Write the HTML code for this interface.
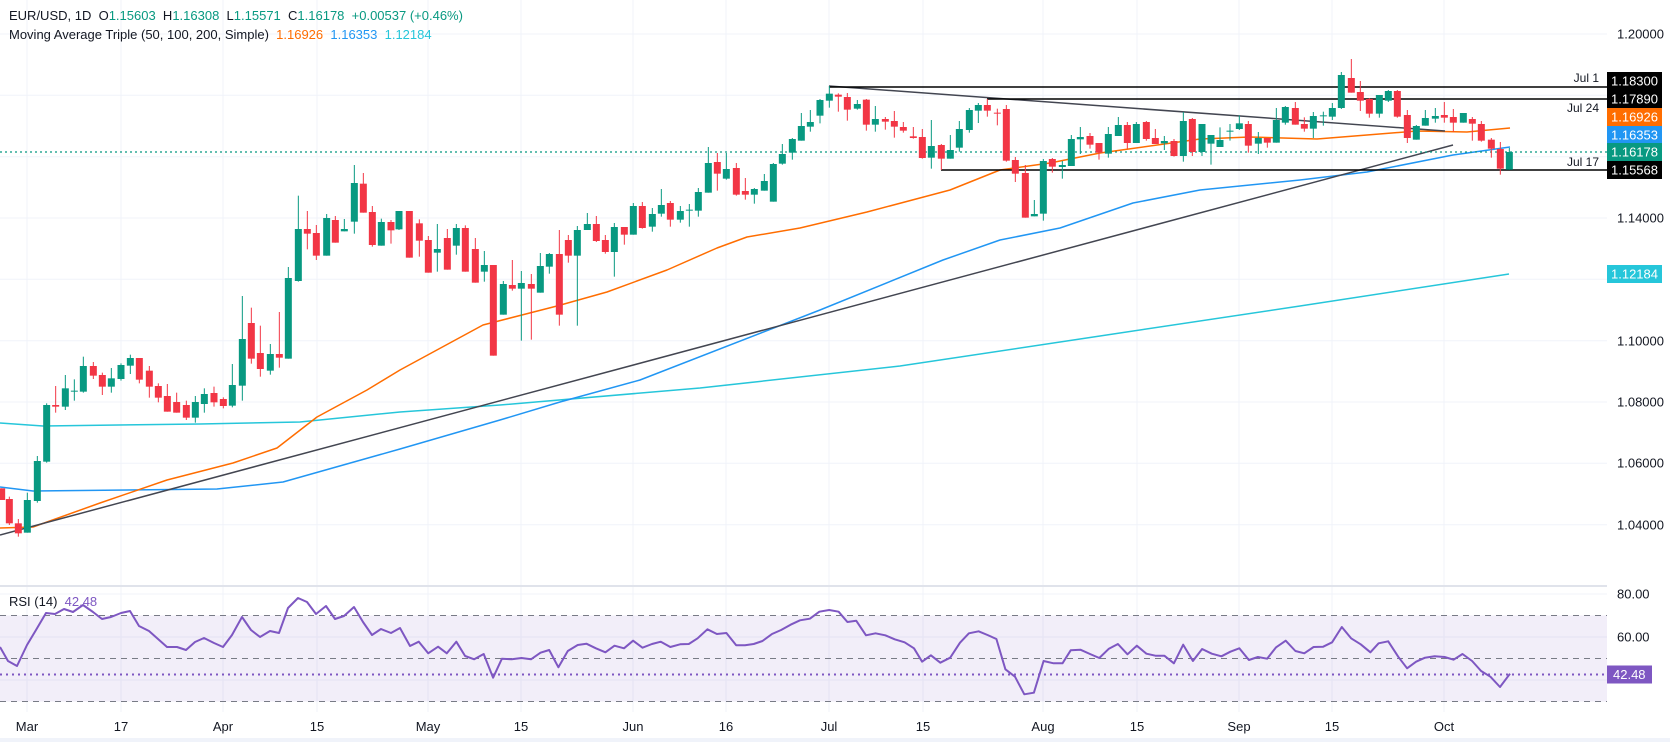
<!DOCTYPE html>
<html><head><meta charset="utf-8">
<style>
html,body{margin:0;padding:0;background:#fff;}
#w{position:relative;width:1670px;height:742px;overflow:hidden;font-family:"Liberation Sans",sans-serif;}
svg{position:absolute;left:0;top:0;}
.t{position:absolute;font-size:13px;color:#131722;white-space:nowrap;}
</style></head><body>
<div id="w">
<svg id="s" width="1670" height="742" xmlns="http://www.w3.org/2000/svg"></svg>
<div class="t" style="left:9px;top:8px;">EUR/USD, 1D&nbsp; O<span style="color:#089981">1.15603</span>&nbsp; H<span style="color:#089981">1.16308</span>&nbsp; L<span style="color:#089981">1.15571</span>&nbsp; C<span style="color:#089981">1.16178</span>&nbsp; <span style="color:#089981">+0.00537 (+0.46%)</span></div>
<div class="t" style="left:9px;top:27px;">Moving Average Triple (50, 100, 200, Simple)&nbsp; <span style="color:#ff6d00">1.16926</span>&nbsp; <span style="color:#2196f3">1.16353</span>&nbsp; <span style="color:#26c6da">1.12184</span></div>
<div class="t" style="left:9px;top:594px;">RSI (14)&nbsp; <span style="color:#7e57c2">42.48</span></div>
</div>
<script>
var s=document.getElementById('s');var NS='http://www.w3.org/2000/svg';
function el(n,a,txt){var e=document.createElementNS(NS,n);for(var k in a)e.setAttribute(k,a[k]);if(txt!==undefined)e.textContent=txt;s.appendChild(e);return e;}
// grids
var vx=[27,121,223,317,428,521,633,726,829,923,1043,1137,1239,1332,1444];
vx.forEach(function(x){el('line',{x1:x,y1:0,x2:x,y2:712,stroke:'#f0f3fa','stroke-width':1});});
[34,95.3,156.7,218,279.3,340.7,402,463.3,524.7].forEach(function(y){el('line',{x1:0,y1:y,x2:1607,y2:y,stroke:'#f0f3fa','stroke-width':1});});
[594,637,680].forEach(function(y){el('line',{x1:0,y1:y,x2:1607,y2:y,stroke:'#f0f3fa','stroke-width':1});});
// separator
el('rect',{x:0,y:585,width:1670,height:2,fill:'#e0e3eb'});
el('rect',{x:0,y:738,width:1670,height:4,fill:'#f0f3fa'});
// RSI band
el('rect',{x:0,y:615.5,width:1607,height:86,fill:'rgba(126,87,194,0.1)'});
[615.5,658.5,701.5].forEach(function(y){el('line',{x1:0,y1:y,x2:1607,y2:y,stroke:'#787b86','stroke-width':1,'stroke-dasharray':'6 5'});});
el('line',{x1:0,y1:674.5,x2:1607,y2:674.5,stroke:'#7e57c2','stroke-width':2,'stroke-dasharray':'2 4'});
// MA lines
function pl(pts,c,w){el('polyline',{points:pts.map(function(p){return p.join(',')}).join(' '),fill:'none',stroke:c,'stroke-width':w||1.5,'stroke-linejoin':'round'});}
pl([[0,423],[43,426],[200,424],[300,422],[400,412],[500,405],[700,388],[900,366],[1100,336],[1300,306],[1509,274]],'#26c6da');
pl([[0,487],[33,491],[217,489],[283,482],[400,449],[500,420],[560,402],[640,380],[820,310],[943,260],[1000,240],[1060,228],[1133,203],[1200,190],[1300,180],[1367,172],[1453,155],[1510,147]],'#2196f3');
pl([[0,528],[33,527],[100,503],[167,480],[233,463],[277,448],[317,417],[367,390],[400,370],[483,325],[557,306],[607,292],[667,270],[717,248],[747,237],[800,228],[867,212],[950,190],[1000,170],[1050,163],[1100,153],[1200,139],[1250,137],[1317,139],[1367,135],[1417,131],[1467,132],[1510,128]],'#ff6d00');
// trend lines
el('line',{x1:0,y1:535,x2:1453,y2:145,stroke:'#434651','stroke-width':1.5});
el('line',{x1:829,y1:86,x2:1445,y2:131,stroke:'#434651','stroke-width':1.5});
el('line',{x1:829,y1:87,x2:1607,y2:87,stroke:'#000','stroke-width':1.5});
el('line',{x1:987,y1:99,x2:1607,y2:99,stroke:'#000','stroke-width':1.5});
el('line',{x1:941,y1:170,x2:1607,y2:170,stroke:'#000','stroke-width':1.5});
el('line',{x1:0,y1:152,x2:1607,y2:152,stroke:'#089981','stroke-width':1.2,'stroke-dasharray':'2 3'});
[['Jul 1',82],['Jul 24',112],['Jul 17',166]].forEach(function(a){el('text',{x:1599,y:a[1],'text-anchor':'end','font-size':12,fill:'#131722','font-family':'Liberation Sans, sans-serif'},a[0]);});
// candles
function C(ox,oy,arr){arr.forEach(function(c){var x=ox+c[0]/3,bt=oy+c[1]/3,bb=oy+c[2]/3,wt=oy+c[3]/3,wb=oy+c[4]/3;var col=c[5]?'#089981':'#f23645';
el('line',{x1:x,y1:wt,x2:x,y2:wb,stroke:col,'stroke-width':1});el('rect',{x:x-3.5,y:bt,width:7,height:Math.max(1,bb-bt),fill:col});});}
C(0,150,[[5,1015,1050,1015,1050,0],[28,1047,1120,1040,1125,0],[55,1120,1150,1107,1160,0],[82,1050,1148,1028,1148,1],[112,933,1053,918,1058,1],[140,765,935,760,938,1],[167,765,770,708,788,0],[196,715,770,675,780,1],[223,722,725,688,752,1],[250,648,725,620,728,1],[280,648,677,636,687,0],[307,675,710,668,735,0],[334,685,710,654,728,1],[363,645,687,640,692,1],[391,624,647,614,672,1],[418,624,689,624,700,0],[448,662,710,648,743,0],[475,708,743,700,757,0],[502,738,785,702,785,0],[530,756,788,728,788,0],[559,765,803,752,810,0],[586,756,803,738,818,1],[613,732,762,715,788,1],[642,729,757,710,770,0],[670,747,768,742,775,0],[697,705,767,642,772,1],[727,567,707,438,752,1],[754,519,626,473,641,0],[781,609,657,527,680,0],[811,612,662,582,674,1],[838,612,623,486,653,0],[865,384,626,351,626,1],[895,237,393,137,395,1],[922,237,251,183,298,0],[949,249,317,225,330,0],[980,204,317,192,317,1],[1006,210,278,198,278,0],[1033,237,244,207,244,1],[1063,99,215,45,251,1],[1090,101,188,69,188,0],[1117,186,285,168,290,0],[1144,216,287,206,287,1],[1173,216,241,210,281,0],[1197,183,238,183,240,1]]);
C(400,80,[[28,393,533,393,533,0],[58,430,482,418,530,0],[85,480,578,468,578,0],[112,507,518,432,575,1],[142,474,569,447,569,0],[169,444,497,432,524,1],[196,444,575,436,575,0],[226,507,608,474,608,0],[253,555,575,513,605,1],[280,555,827,555,827,0],[310,612,704,603,704,1],[337,615,626,540,632,0],[364,609,626,573,782,1],[394,612,626,582,779,0],[421,558,638,519,638,1],[448,522,560,519,581,1],[478,522,704,450,737,0],[505,480,527,465,548,0],[532,450,527,438,737,1],[562,432,450,399,450,1],[589,432,483,408,486,0],[616,480,516,465,521,0],[643,441,516,429,590,1],[673,441,464,441,494,0],[700,378,464,369,464,1],[727,378,444,366,446,0],[757,402,440,384,455,1],[784,375,401,327,410,1],[811,369,419,363,440,0],[841,393,419,378,428,1],[868,389,392,372,440,1],[895,336,392,324,410,1],[925,249,338,201,338,1],[952,246,281,219,332,0],[979,267,296,219,299,1],[1009,264,344,249,347,0],[1036,333,344,294,359,0],[1063,327,344,324,371,1],[1093,303,332,282,332,1],[1120,252,365,249,365,1],[1147,222,251,192,254,1],[1177,177,218,174,239,1],[1204,138,182,99,182,1],[1231,126,140,90,155,1]]);
C(800,60,[[60,120,167,117,190,1],[88,101,122,78,143,1],[115,104,110,100,155,0],[142,111,149,99,182,0],[172,132,146,120,149,1],[199,119,194,117,212,0],[226,177,194,138,215,1],[256,177,185,171,209,0],[283,183,200,153,233,0],[310,201,212,186,218,0],[340,229,234,201,236,0],[367,231,294,207,296,0],[394,258,293,180,326,1],[424,255,296,252,330,0],[451,270,296,225,296,1],[478,207,263,183,275,1],[508,150,210,144,218,1],[535,135,152,129,189,1],[562,135,152,117,170,0],[592,158,160,146,196,0],[619,147,302,135,305,0],[646,300,341,291,366,0],[676,339,473,315,473,0],[703,462,469,420,469,1],[730,303,461,297,482,1],[757,297,320,294,338,0],[787,315,321,303,356,1],[814,237,318,225,318,1],[841,231,238,201,282,1],[870,228,254,219,266,0],[897,249,278,249,299,0],[925,222,281,201,293,1],[955,195,228,171,228,1],[982,195,249,186,266,0],[1009,192,249,186,249,1],[1039,186,237,183,242,0],[1066,234,252,207,252,0],[1093,243,250,228,270,1],[1122,243,288,237,290,0],[1150,183,288,156,305,1],[1177,177,276,174,288,0],[1206,192,276,192,288,1],[1233,225,251,225,314,1]]);
C(1200,40,[[60,300,321,262,321,1],[90,272,275,252,302,1],[118,250,267,226,270,1],[145,252,317,243,338,0],[175,294,311,276,342,1],[202,294,308,294,323,0],[229,240,308,204,308,1],[256,201,248,198,254,1],[286,204,254,186,254,0],[313,252,266,232,275,0],[340,228,266,216,294,1],[370,226,228,215,257,1],[397,204,230,189,240,1],[424,105,204,96,207,1],[454,114,158,57,158,0],[481,156,182,123,213,0],[508,177,221,174,233,0],[538,165,221,165,233,1],[565,153,182,150,186,1],[592,153,230,150,233,0],[622,225,294,210,309,0],[649,258,299,255,299,1],[676,234,257,210,257,1],[706,228,236,204,248,1],[733,225,233,186,248,0],[760,231,248,207,275,0],[790,219,248,219,248,1],[817,237,251,231,302,0],[844,252,302,243,305,0],[874,299,326,294,353,0],[901,327,386,306,404,0],[928,336,389,324,389,1]]);
// RSI
var r=[[0,647],[8,661],[17,666],[27,645],[36,630],[46,613],[55,614],[64,609],[73,612],[83,605],[93,612],[102,619],[111,617],[121,613],[130,611],[139,626],[149,631],[158,639],[167,647],[177,647],[186,650],[195,642],[204,638],[214,643],[223,647],[232,635],[242,617],[251,630],[260,637],[270,631],[279,633],[288,608],[298,598],[307,602],[316,614],[326,606],[335,619],[344,616],[354,607],[363,622],[372,635],[381,629],[391,633],[400,628]];
[[0,168],[25,155],[52,190],[80,170],[105,190],[132,155],[157,198],[183,208],[210,192],[237,263],[262,206],[290,208],[318,204],[345,208],[372,188],[397,180],[423,232],[450,183],[478,165],[503,161],[530,175],[557,187],[583,167],[610,175],[636,152],[663,173],[690,162],[715,155],[742,171],[770,163],[795,162],[820,145],[848,118],[875,132],[902,129],[930,166],[955,166],[980,162],[1005,153],[1032,132],[1058,120],[1085,104],[1112,91],[1140,86],[1167,65],[1195,60],[1222,65],[1247,96],[1272,92],[1300,136],[1327,130],[1355,136],[1382,148],[1410,157],[1437,175],[1460,215],[1485,196],[1512,218],[1540,203],[1568,158]].forEach(function(p){r.push([410+p[0]/2.851,590+p[1]/3]);});
[[53,130],[80,124],[105,135],[130,147],[155,238],[182,260],[208,313],[235,308],[262,213],[290,220],[315,220],[338,181],[365,179],[392,192],[418,204],[445,176],[470,162],[497,193],[523,167],[550,191],[575,197],[600,197],[627,220],[653,164],[680,213],[706,177],[733,191],[760,199],[785,185],[810,175],[837,210],[862,201],[888,206],[913,172],[940,152],[967,183],[992,190],[1018,171],[1045,170],[1070,157],[1097,111],[1123,145],[1150,163],[1177,187],[1200,160],[1227,154],[1255,200],[1280,235],[1305,215],[1330,203],[1357,199],[1385,201],[1410,209],[1435,192],[1462,213],[1487,243],[1513,260],[1540,291],[1568,251]].forEach(function(p){r.push([950+p[0]/2.8,590+p[1]/3]);});
pl(r.map(function(p){return [p[0].toFixed(1),p[1].toFixed(1)];}),'#7e57c2',2);
// price axis
el('rect',{x:1607,y:0,width:63,height:738,fill:'#fff'});
function at(t,y,c){el('text',{x:1617,y:y+4.5,'font-size':13,fill:c||'#131722','font-family':'Liberation Sans, sans-serif'},t);}
at('1.20000',34);at('1.14000',218);at('1.10000',341);at('1.08000',402);at('1.06000',463);at('1.04000',525);
at('80.00',594);at('60.00',637);
function box(t,y,bg){el('rect',{x:1607,y:y-9,width:55,height:18,fill:bg});el('text',{x:1611,y:y+4.5,'font-size':13,fill:'#fff','font-family':'Liberation Sans, sans-serif'},t);}
box('1.18300',81,'#000');box('1.17890',99,'#000');box('1.16926',117,'#ff6d00');box('1.16353',135,'#2196f3');box('1.16178',152,'#089981');box('1.15568',170,'#000');box('1.12184',274,'#26c6da');
el('rect',{x:1607,y:665.5,width:45,height:18,fill:'#7e57c2'});
el('text',{x:1613,y:679,'font-size':13,fill:'#fff','font-family':'Liberation Sans, sans-serif'},'42.48');
// x labels
[['Mar',27],['17',121],['Apr',223],['15',317],['May',428],['15',521],['Jun',633],['16',726],['Jul',829],['15',923],['Aug',1043],['15',1137],['Sep',1239],['15',1332],['Oct',1444]].forEach(function(a){el('text',{x:a[1],y:731,'text-anchor':'middle','font-size':13,fill:'#131722','font-family':'Liberation Sans, sans-serif'},a[0]);});
</script>
</body></html>
